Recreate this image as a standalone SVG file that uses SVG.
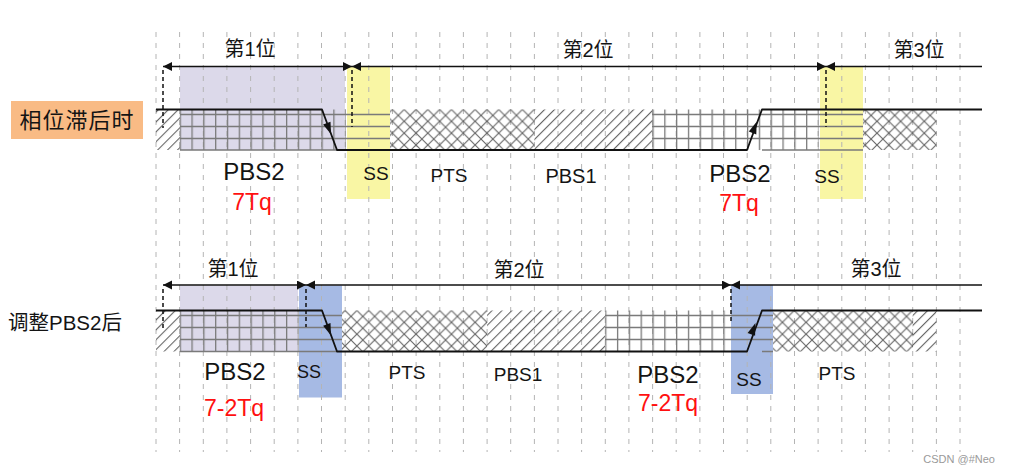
<svg xmlns="http://www.w3.org/2000/svg" width="1010" height="472" viewBox="0 0 1010 472">
<style>
.grid{stroke:#b4b4b4;stroke-width:1;stroke-dasharray:5 6;fill:none}
.sig{stroke:#111;stroke-width:1.8;fill:none;stroke-linejoin:round}
.arr{stroke:#111;stroke-width:1.6;fill:none}
.mark{stroke:#111;stroke-width:1.5;stroke-dasharray:4 3;fill:none}
.hl{stroke:#7a7a7a;stroke-width:1.4;fill:none}
.t{font-family:"Liberation Sans","Noto Sans CJK SC",sans-serif;fill:#141414;text-anchor:middle}
.red{fill:#ff1010}
.head{fill:#111}
</style>
<defs>
<marker id="ah" markerUnits="userSpaceOnUse" markerWidth="10" markerHeight="10" refX="9" refY="4.5" orient="auto-start-reverse"><path d="M0,0 L9,4.5 L0,9 z" fill="#111"/></marker>
<pattern id="diag" patternUnits="userSpaceOnUse" width="7" height="7" patternTransform="rotate(45)"><line x1="0.6" y1="0" x2="0.6" y2="7" stroke="#555555" stroke-width="1"/></pattern>
<pattern id="cross" patternUnits="userSpaceOnUse" x="179.6" y="109.5" width="11.82" height="11.82"><path d="M0,0 L11.82,11.82 M11.82,0 L0,11.82" stroke="#666666" stroke-width="1.15" fill="none"/></pattern>
<pattern id="cross2" patternUnits="userSpaceOnUse" x="179.6" y="310.5" width="11.82" height="11.82"><path d="M0,0 L11.82,11.82 M11.82,0 L0,11.82" stroke="#666666" stroke-width="1.15" fill="none"/></pattern>
<pattern id="vgrid" patternUnits="userSpaceOnUse" x="179.6" y="0" width="11.82" height="20"><line x1="0.6" y1="0" x2="0.6" y2="20" stroke="#7a7a7a" stroke-width="1.4"/></pattern>
</defs>
<rect width="1010" height="472" fill="#ffffff"/>

<g id="fills">
<rect x="180" y="66.5" width="165" height="83.5" fill="#dcd9ea"/>
<rect x="347" y="66" width="43" height="133" fill="#f9f6a4"/>
<rect x="820" y="66" width="43" height="133" fill="#f9f6a4"/>
<rect x="180" y="285.5" width="118" height="66" fill="#dcd9ea"/>
<rect x="299" y="285.5" width="43" height="112" fill="#a6bae4"/>
<rect x="731" y="285" width="42" height="109" fill="#a6bae4"/>
</g>

<g id="gridlines">
<path class="grid" d="M156,32V452M179.6,32V452M203.3,32V452M226.9,32V452M250.6,32V452M274.2,32V452M297.9,32V452M321.5,32V452M345.2,32V452M368.8,32V452M392.5,32V452M416.1,32V452M439.8,32V452M463.4,32V452M487.1,32V452M510.7,32V452M534.4,32V452M558,32V452M581.6,32V452M605.3,32V452M628.9,32V452M652.6,32V452M676.2,32V452M699.9,32V452M723.5,32V452M747.2,32V452M770.8,32V452M794.5,32V452M818.1,32V452M841.8,32V452M865.4,32V452M889.1,32V452M912.7,32V452M936.4,32V452M960,32V452"/>
</g>

<g id="row1-patterns">
<rect x="156" y="109.5" width="24" height="40.5" fill="url(#diag)"/>
<rect x="179.6" y="109.5" width="166" height="40.5" fill="url(#vgrid)"/>
<rect x="390" y="109.5" width="144.4" height="40.5" fill="url(#cross)"/>
<rect x="534.4" y="109.5" width="118" height="40.5" fill="url(#diag)"/>
<rect x="652" y="109.5" width="166.5" height="40.5" fill="url(#vgrid)"/>
<rect x="863" y="109.5" width="73.4" height="40.5" fill="url(#cross)"/>
<path class="hl" d="M180,114.5H390M180,126.5H390M180,138.5H390M180,150H337M652,114.5H863M652,126.5H863M652,138.5H863M762,150H863"/>
</g>

<g id="row2-patterns">
<rect x="156" y="310.5" width="24" height="41" fill="url(#diag)"/>
<rect x="179.6" y="310.5" width="119" height="41" fill="url(#vgrid)"/>
<rect x="342" y="310.5" width="145" height="41" fill="url(#cross2)"/>
<rect x="487.1" y="310.5" width="118" height="41" fill="url(#diag)"/>
<rect x="605.3" y="310.5" width="125" height="41" fill="url(#vgrid)"/>
<rect x="773" y="310.5" width="140" height="41" fill="url(#cross2)"/>
<rect x="912.7" y="310.5" width="23.7" height="41" fill="url(#diag)"/>
<path class="hl" d="M180,315.5H342M180,327.5H342M180,339.5H342M180,351.5H337M605,315.5H773M605,327.5H773M605,339.5H773M762,351.5H773"/>
</g>

<g id="connectors">
<line class="arr" x1="163" y1="66.5" x2="352" y2="66.5" marker-start="url(#ah)" marker-end="url(#ah)"/>
<line class="arr" x1="352" y1="66.5" x2="826" y2="66.5" marker-start="url(#ah)" marker-end="url(#ah)"/>
<line class="arr" x1="826" y1="66.5" x2="982" y2="66.5" marker-start="url(#ah)"/>
<path class="mark" d="M163,70V128M352,70V127M826,70V127"/>
<polyline class="sig" points="156,109.5 322,109.5 337,150 747,150 762,109.5 982,109.5"/>
<polygon class="head" points="331,134.3 330.5,121.7 323.1,124.5"/>
<polygon class="head" points="756.7,121.7 756.3,134.4 748.8,131.6"/>

<line class="arr" x1="163" y1="285" x2="306" y2="285" marker-start="url(#ah)" marker-end="url(#ah)"/>
<line class="arr" x1="306" y1="285" x2="731" y2="285" marker-start="url(#ah)" marker-end="url(#ah)"/>
<line class="arr" x1="731" y1="285" x2="982" y2="285" marker-start="url(#ah)"/>
<path class="mark" d="M163,289V328M306,289V327M731,289V323"/>
<polyline class="sig" points="156,310.5 322,310.5 337,351.5 747,351.5 762,310.5 982,310.5"/>
<polygon class="head" points="331,335.5 330.5,322.9 323.1,325.7"/>
<polygon class="head" points="755.5,323 755.1,335.7 747.6,332.9"/>
</g>

<g id="label-row1">
<rect x="11" y="101" width="132" height="38" fill="#f9bb85"/>
<text class="t" x="77" y="128" font-size="22" letter-spacing="1">相位滞后时</text>
</g>
<g id="label-row2">
<text class="t" x="8" y="330" font-size="20.5" style="text-anchor:start">调整PBS2后</text>
</g>

<g id="bits-row1">
<text class="t" x="250" y="56" font-size="20">第1位</text>
<text class="t" x="588" y="57" font-size="20">第2位</text>
<text class="t" x="919" y="57" font-size="20">第3位</text>
</g>
<g id="segs-row1">
<text class="t" x="254" y="180" font-size="24">PBS2</text>
<text class="t red" x="252" y="210" font-size="23">7Tq</text>
<text class="t" x="376" y="180" font-size="19">SS</text>
<text class="t" x="449" y="182" font-size="19">PTS</text>
<text class="t" x="571" y="183" font-size="20">PBS1</text>
<text class="t" x="740" y="182" font-size="24">PBS2</text>
<text class="t red" x="739" y="211" font-size="23">7Tq</text>
<text class="t" x="827" y="183" font-size="19">SS</text>
</g>

<g id="bits-row2">
<text class="t" x="233" y="276" font-size="20">第1位</text>
<text class="t" x="519" y="277" font-size="20">第2位</text>
<text class="t" x="876" y="276" font-size="20">第3位</text>
</g>
<g id="segs-row2">
<text class="t" x="235" y="380" font-size="24">PBS2</text>
<text class="t red" x="234" y="416" font-size="23">7-2Tq</text>
<text class="t" x="309" y="378" font-size="18">SS</text>
<text class="t" x="407" y="379" font-size="19">PTS</text>
<text class="t" x="518" y="381" font-size="19">PBS1</text>
<text class="t" x="668" y="383" font-size="24">PBS2</text>
<text class="t red" x="668" y="411" font-size="23">7-2Tq</text>
<text class="t" x="749" y="386" font-size="19">SS</text>
<text class="t" x="837" y="380" font-size="19">PTS</text>
</g>

<g id="watermark">
<text x="995" y="463" font-family="Liberation Sans, sans-serif" font-size="11" fill="#9a9a9a" text-anchor="end">CSDN @#Neo</text>
</g>
</svg>
